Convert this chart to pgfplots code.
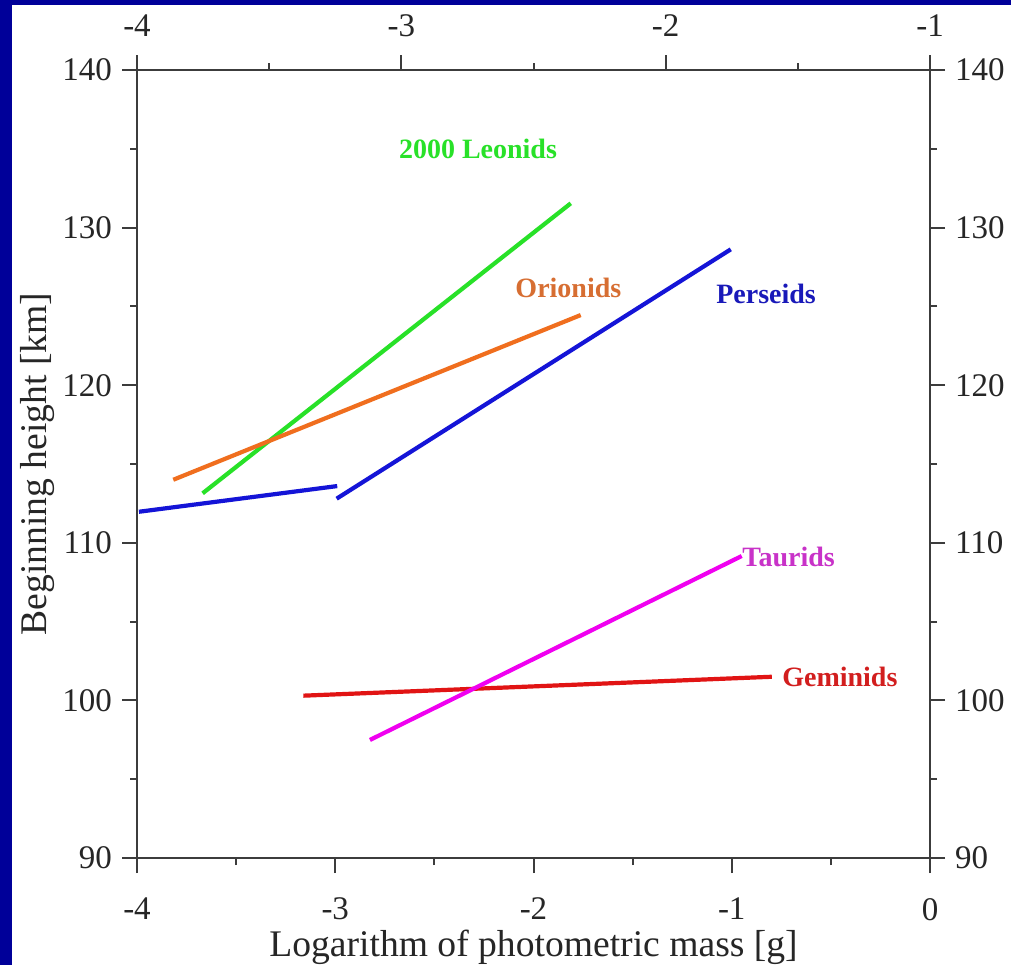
\documentclass[border=0pt]{standalone}
\usepackage{pgfplots}
\pgfplotsset{compat=1.18}
\usepackage{fontspec}
\setmainfont{Liberation Serif}

\definecolor{frameblue}{RGB}{0,0,153}
\definecolor{axisgray}{RGB}{60,60,60}
\definecolor{leonidgreen}{RGB}{40,225,40}
\definecolor{orionorange}{RGB}{240,110,30}
\definecolor{perseidblue}{RGB}{20,20,215}
\definecolor{tauridmag}{RGB}{240,0,240}
\definecolor{geminidred}{RGB}{225,20,20}
\definecolor{orionlabel}{RGB}{215,110,50}
\definecolor{perseidlabel}{RGB}{25,25,185}
\definecolor{tauridlabel}{RGB}{200,50,200}
\definecolor{geminidlabel}{RGB}{210,30,30}

\pgfplotsset{
  meteorframe/.style={
    at={(68.5pt,53.5pt)}, anchor=south west, scale only axis,
    width=396.5pt, height=394pt,
    ymin=90, ymax=140, ytick={90,100,...,140},
    minor x tick num=1, minor y tick num=1,
    tick align=outside,
    major tick length=7.5pt, minor tick length=3.5pt,
    axis line style={line width=1.1pt, color=axisgray},
    every tick/.style={line width=1pt, color=axisgray},
    tick label style={font=\fontsize{16.5}{16.5}\selectfont, color=black!85},
    /pgf/number format/assume math mode=true,
  },
}

\begin{document}
\begin{tikzpicture}[x=1pt,y=1pt]
\fill[frameblue] (0,0) rectangle (505.5,482.5);
\fill[white] (6,0) rectangle (505.5,480);
\useasboundingbox (0,0) rectangle (505.5,482.5);

% bottom scale and left height axis, with the meteor-shower fits
\begin{axis}[meteorframe,
  xmin=-4, xmax=0, xtick={-4,-3,...,0},
  axis x line*=bottom, axis y line*=left,
  xticklabel style={yshift=-9pt},
  yticklabel style={xshift=-1.5pt},
  xlabel={Logarithm of photometric mass [g]},
  ylabel={Beginning height [km]},
  label style={font=\fontsize{18.8}{18.8}\selectfont, color=black!85},
  xlabel style={at={(axis description cs:0.5,-0.1256)}, anchor=base},
  ylabel style={at={(axis description cs:-0.125,0.5)}, anchor=center},
  every axis plot/.append style={line width=2.1pt},
]
\addplot[leonidgreen] coordinates {(-3.669,113.14) (-1.812,131.54)};
\addplot[orionorange] coordinates {(-3.817,114.0) (-1.762,124.45)};
\addplot[perseidblue] coordinates {(-3.99,111.97) (-2.99,113.6)};
\addplot[perseidblue] coordinates {(-2.993,112.8) (-1.005,128.62)};
\addplot[geminidred] coordinates {(-3.161,100.3) (-0.798,101.5)};
\addplot[tauridmag] coordinates {(-2.825,97.49) (-0.950,109.16)};

\begin{scope}[every node/.style={font=\fontsize{14}{14}\selectfont\bfseries}]
\node[leonidgreen] at (axis cs:-2.28,135.0) {2000 Leonids};
\node[orionlabel] at (axis cs:-1.824,126.2) {Orionids};
\node[perseidlabel] at (axis cs:-0.827,125.8) {Perseids};
\node[tauridlabel, anchor=west, inner sep=0pt] at (axis cs:-0.948,109.13) {Taurids};
\node[geminidlabel, anchor=west, inner sep=0pt] at (axis cs:-0.747,101.48) {Geminids};
\end{scope}
\end{axis}

% top scale and right height axis
\begin{axis}[meteorframe,
  xmin=-4, xmax=-1, xtick={-4,-3,-2,-1},
  axis x line*=top, axis y line*=right,
  xticklabel style={yshift=5.5pt},
  yticklabel style={xshift=1.5pt},
]
\end{axis}
\end{tikzpicture}
\end{document}
